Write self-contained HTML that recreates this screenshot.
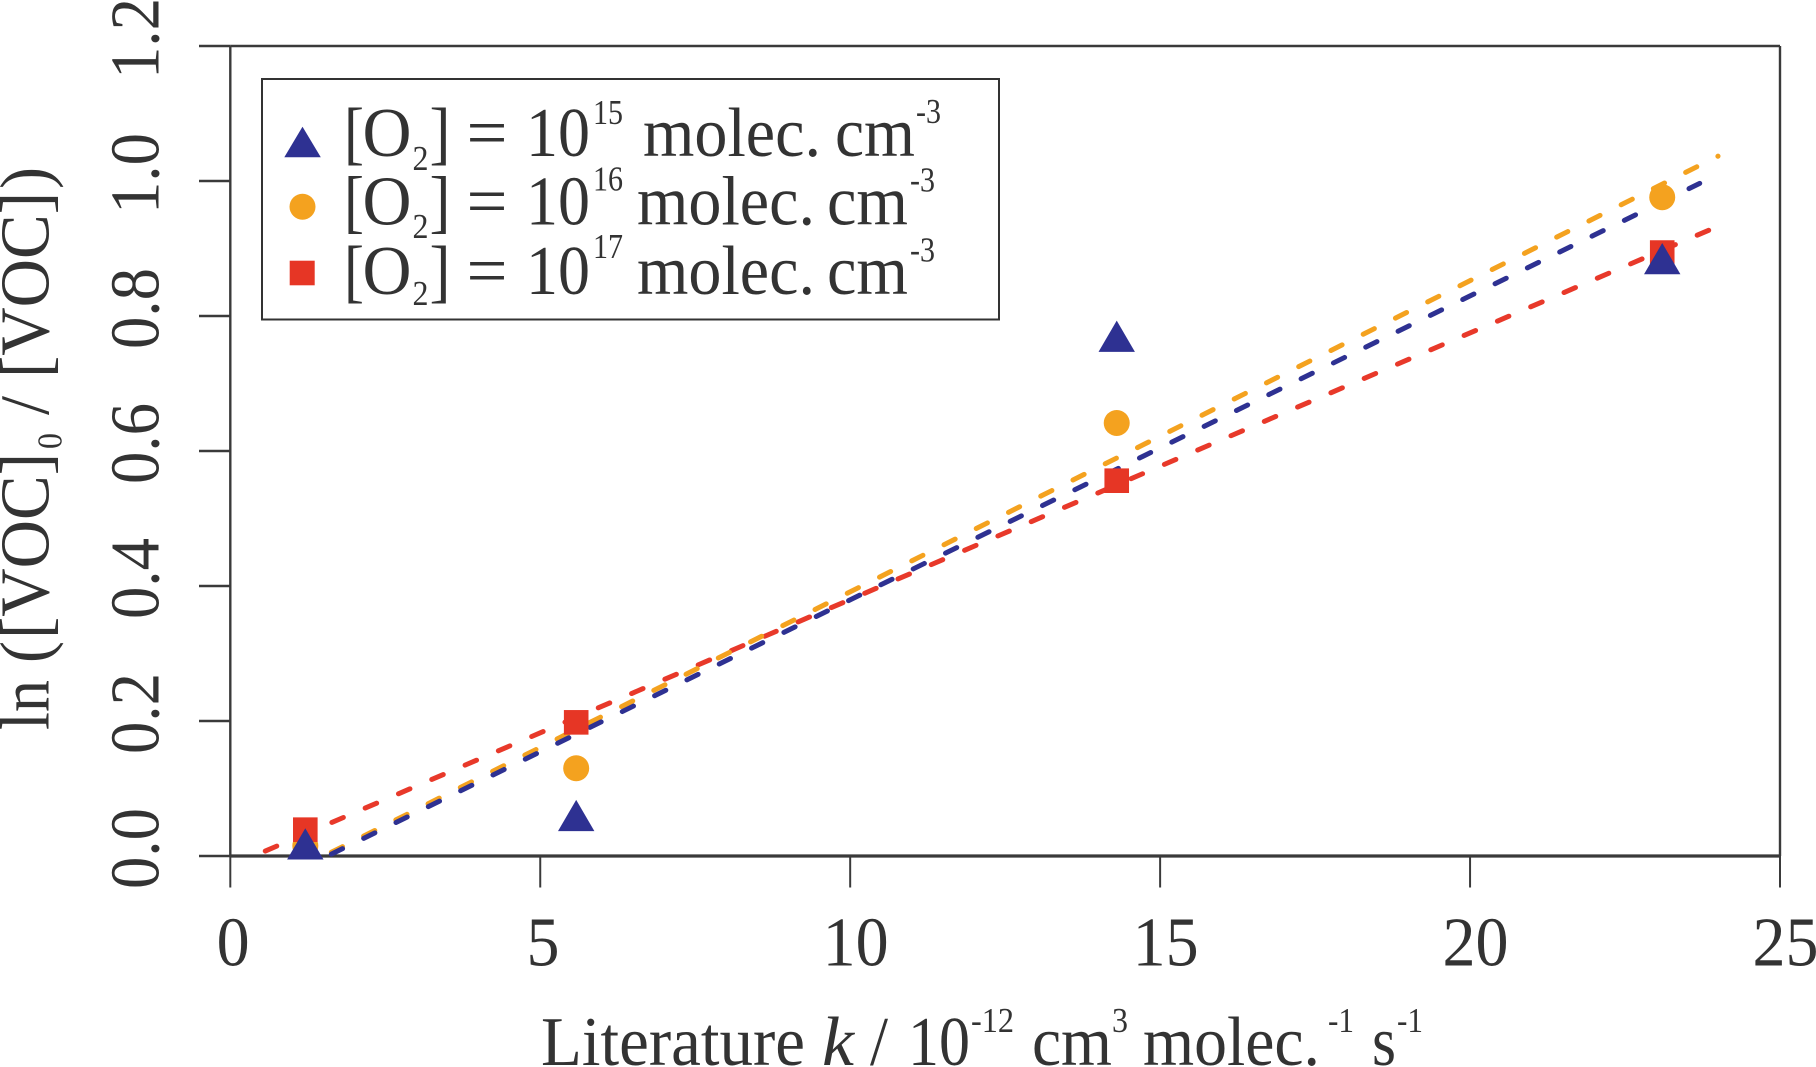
<!DOCTYPE html>
<html>
<head>
<meta charset="utf-8">
<title>ln([VOC]0/[VOC]) vs literature k</title>
<style>
html,body{margin:0;padding:0;background:#fff;width:1816px;height:1067px;overflow:hidden}
svg{display:block}
text{font-family:"Liberation Serif","Times New Roman",serif;fill:#333;font-size:70px}
.sup{font-size:35px}
</style>
</head>
<body>
<svg id="chart" width="1816" height="1067" viewBox="0 0 1816 1067" xmlns="http://www.w3.org/2000/svg">
<g id="axes"></g>
<g id="fits"></g>
<g id="points"></g>

<g transform="translate(48.3 730) rotate(-90)">
  <text x="0" y="0" textLength="50" lengthAdjust="spacingAndGlyphs">ln</text>
  <text x="67" y="0" textLength="22" lengthAdjust="spacingAndGlyphs">(</text>
  <text x="91" y="0" textLength="186" lengthAdjust="spacingAndGlyphs">[VOC]</text>
  <text class="sup" x="281" y="13" textLength="16" lengthAdjust="spacingAndGlyphs">0</text>
  <text x="315" y="0" textLength="19" lengthAdjust="spacingAndGlyphs">/</text>
  <text x="352" y="0" textLength="186" lengthAdjust="spacingAndGlyphs">[VOC]</text>
  <text x="541" y="0" textLength="22" lengthAdjust="spacingAndGlyphs">)</text>
</g>

<g>
  <text x="541" y="1065" textLength="264" lengthAdjust="spacingAndGlyphs">Literature</text>
  <text x="822" y="1065" textLength="32" lengthAdjust="spacingAndGlyphs" font-style="italic">k</text>
  <text x="870" y="1065" textLength="18" lengthAdjust="spacingAndGlyphs">/</text>
  <text x="908" y="1065" textLength="62" lengthAdjust="spacingAndGlyphs">10</text>
  <text class="sup" x="971" y="1032" textLength="43" lengthAdjust="spacingAndGlyphs">-12</text>
  <text x="1032" y="1065" textLength="80" lengthAdjust="spacingAndGlyphs">cm</text>
  <text class="sup" x="1112" y="1032" textLength="16" lengthAdjust="spacingAndGlyphs">3</text>
  <text x="1143" y="1065" textLength="177" lengthAdjust="spacingAndGlyphs">molec.</text>
  <text class="sup" x="1328" y="1032" textLength="26" lengthAdjust="spacingAndGlyphs">-1</text>
  <text x="1372" y="1065" textLength="24" lengthAdjust="spacingAndGlyphs">s</text>
  <text class="sup" x="1397" y="1032" textLength="26" lengthAdjust="spacingAndGlyphs">-1</text>
</g>

<g>
  <rect x="262" y="79" width="737" height="240.5" fill="#fff" stroke="#333" stroke-width="2"/>
  <g>
    <polygon points="302.5,126.7 320.8,157.3 284.3,157.3" fill="#2e3192"/>
    <text x="344" y="156" textLength="20" lengthAdjust="spacingAndGlyphs">[</text>
    <text x="362.5" y="156" textLength="49" lengthAdjust="spacingAndGlyphs">O</text>
    <text class="sup" x="412.5" y="170" textLength="16" lengthAdjust="spacingAndGlyphs">2</text>
    <text x="429.5" y="156" textLength="21" lengthAdjust="spacingAndGlyphs">]</text>
    <text x="466.5" y="156" textLength="41" lengthAdjust="spacingAndGlyphs">=</text>
    <text x="526" y="156" textLength="64" lengthAdjust="spacingAndGlyphs">10</text>
    <text class="sup" x="593" y="124" textLength="30" lengthAdjust="spacingAndGlyphs">15</text>
    <text x="643" y="156" textLength="178" lengthAdjust="spacingAndGlyphs">molec.</text>
    <text x="835" y="156" textLength="80" lengthAdjust="spacingAndGlyphs">cm</text>
    <text class="sup" x="916" y="123" textLength="25" lengthAdjust="spacingAndGlyphs">-3</text>
  </g>
  <g>
    <ellipse cx="302.5" cy="206.7" rx="13" ry="13" fill="#f4a21f"/>
    <text x="344" y="224.5" textLength="20" lengthAdjust="spacingAndGlyphs">[</text>
    <text x="362.5" y="224.5" textLength="49" lengthAdjust="spacingAndGlyphs">O</text>
    <text class="sup" x="412.5" y="238" textLength="16" lengthAdjust="spacingAndGlyphs">2</text>
    <text x="429.5" y="224.5" textLength="21" lengthAdjust="spacingAndGlyphs">]</text>
    <text x="466.5" y="224.5" textLength="41" lengthAdjust="spacingAndGlyphs">=</text>
    <text x="526" y="224.5" textLength="64" lengthAdjust="spacingAndGlyphs">10</text>
    <text class="sup" x="593" y="190.5" textLength="30" lengthAdjust="spacingAndGlyphs">16</text>
    <text x="637" y="224.5" textLength="178" lengthAdjust="spacingAndGlyphs">molec.</text>
    <text x="827" y="224.5" textLength="81" lengthAdjust="spacingAndGlyphs">cm</text>
    <text class="sup" x="910" y="191.5" textLength="25" lengthAdjust="spacingAndGlyphs">-3</text>
  </g>
  <g>
    <rect x="289.7" y="260.7" width="25" height="24.6" fill="#e63625"/>
    <text x="344" y="294" textLength="20" lengthAdjust="spacingAndGlyphs">[</text>
    <text x="362.5" y="294" textLength="49" lengthAdjust="spacingAndGlyphs">O</text>
    <text class="sup" x="412.5" y="305" textLength="16" lengthAdjust="spacingAndGlyphs">2</text>
    <text x="429.5" y="294" textLength="21" lengthAdjust="spacingAndGlyphs">]</text>
    <text x="466.5" y="294" textLength="41" lengthAdjust="spacingAndGlyphs">=</text>
    <text x="526" y="294" textLength="64" lengthAdjust="spacingAndGlyphs">10</text>
    <text class="sup" x="593" y="258" textLength="30" lengthAdjust="spacingAndGlyphs">17</text>
    <text x="637" y="294" textLength="178" lengthAdjust="spacingAndGlyphs">molec.</text>
    <text x="827" y="294" textLength="81" lengthAdjust="spacingAndGlyphs">cm</text>
    <text class="sup" x="910" y="261.5" textLength="25" lengthAdjust="spacingAndGlyphs">-3</text>
  </g>
</g>
</svg>
<script>
var xTicks = [0, 5, 10, 15, 20, 25];
var yTicks = [0, 0.2, 0.4, 0.6, 0.8, 1.0, 1.2];
var xTickLabels = ['0', '5', '10', '15', '20', '25'];
var yTickLabels = ['0.0', '0.2', '0.4', '0.6', '0.8', '1.0', '1.2'];

var literatureK = [1.21, 5.58, 14.3, 23.1];
var valuesO2e15 = [0.018, 0.06, 0.77, 0.885];
var valuesO2e16 = [0.015, 0.13, 0.6415, 0.976];
var valuesO2e17 = [0.039, 0.198, 0.556, 0.894];

var fitKO2e15 = [1.63, 23.705];
var fitValO2e15 = [0.0027, 0.9965];
var fitKO2e16 = [1.63, 24.0];
var fitValO2e16 = [0.0055, 1.0368];
var fitKO2e17 = [0.564, 23.85];
var fitValO2e17 = [0.0073, 0.927];

function xScale(v) { return 230.3 + v * (1780 - 230.3) / 25; }
function yScale(v) { return 856 - v * (856 - 46) / 1.2; }

var NS = 'http://www.w3.org/2000/svg';
var axes = document.getElementById('axes');
var fits = document.getElementById('fits');
var points = document.getElementById('points');
var axisColor = '#3a3a3a';

function axisLine(x1, y1, x2, y2, w) {
  var l = document.createElementNS(NS, 'line');
  l.setAttribute('x1', x1);
  l.setAttribute('y1', y1);
  l.setAttribute('x2', x2);
  l.setAttribute('y2', y2);
  l.setAttribute('stroke', axisColor);
  l.setAttribute('stroke-width', w);
  axes.appendChild(l);
  return l;
}

var frameTop = axisLine(xScale(0), yScale(1.2), xScale(25), yScale(1.2), 2.6);


var frameBottom = axisLine(xScale(0), yScale(0), xScale(25), yScale(0), 3.2);


var frameLeft = axisLine(xScale(0), yScale(1.2), xScale(0), yScale(0), 2.4);


var frameRight = axisLine(xScale(25), yScale(1.2), xScale(25), yScale(0), 2.4);



xTicks.forEach(function (t, i) {
  var tick = axisLine(xScale(t), yScale(0), xScale(t), 887.5, 2);
  
  
  var label = document.createElementNS(NS, 'text');
  label.setAttribute('x', xScale(t) + (xTickLabels[i].length === 1 ? 2.8 : 5.5));
  label.setAttribute('y', 965.5);
  label.setAttribute('text-anchor', 'middle');
  label.setAttribute('textLength', xTickLabels[i].length * 33);
  label.setAttribute('lengthAdjust', 'spacingAndGlyphs');
  label.textContent = xTickLabels[i];
  
  
  axes.appendChild(label);
});

yTicks.forEach(function (t, i) {
  var tick = axisLine(199, yScale(t), xScale(0), yScale(t), 2.6);
  
  
  var label = document.createElementNS(NS, 'text');
  var ly = yScale(t) - 7.5;
  label.setAttribute('transform', 'translate(158.5 ' + ly + ') rotate(-90)');
  label.setAttribute('text-anchor', 'middle');
  label.setAttribute('textLength', 81);
  label.setAttribute('lengthAdjust', 'spacingAndGlyphs');
  label.textContent = yTickLabels[i];
  
  
  axes.appendChild(label);
});

function fitLine(ks, vals, color, period) {
  var l = document.createElementNS(NS, 'line');
  l.setAttribute('x1', xScale(ks[0]));
  l.setAttribute('y1', yScale(vals[0]));
  l.setAttribute('x2', xScale(ks[1]));
  l.setAttribute('y2', yScale(vals[1]));
  l.setAttribute('stroke', color);
  l.setAttribute('stroke-width', 5);
  l.setAttribute('stroke-dasharray', '12.5 ' + (period - 12.5));
  l.setAttribute('stroke-linecap', 'round');
  fits.appendChild(l);
  return l;
}

var fitRed = fitLine(fitKO2e17, fitValO2e17, '#e8392a', 36.25);


var fitOrange = fitLine(fitKO2e16, fitValO2e16, '#f4a21f', 36.08);


var fitBlue = fitLine(fitKO2e15, fitValO2e15, '#2e3192', 36);



literatureK.forEach(function (k, i) {
  var c = document.createElementNS(NS, 'circle');
  c.setAttribute('cx', xScale(k));
  c.setAttribute('cy', yScale(valuesO2e16[i]));
  c.setAttribute('r', 13);
  c.setAttribute('fill', '#f4a21f');
  
  
  points.appendChild(c);
});

literatureK.forEach(function (k, i) {
  var s = document.createElementNS(NS, 'rect');
  s.setAttribute('x', xScale(k) - 12.3);
  s.setAttribute('y', yScale(valuesO2e17[i]) - 12.3);
  s.setAttribute('width', 24.6);
  s.setAttribute('height', 24.6);
  s.setAttribute('fill', '#e63625');
  
  
  points.appendChild(s);
});

literatureK.forEach(function (k, i) {
  var t = document.createElementNS(NS, 'polygon');
  var cx = xScale(k);
  var cy = yScale(valuesO2e15[i]);
  t.setAttribute('points', cx + ',' + (cy - 15.6) + ' ' + (cx + 18.2) + ',' + (cy + 15.6) + ' ' + (cx - 18.2) + ',' + (cy + 15.6));
  t.setAttribute('fill', '#2e3192');
  
  
  points.appendChild(t);
});
</script>
</body>
</html>
